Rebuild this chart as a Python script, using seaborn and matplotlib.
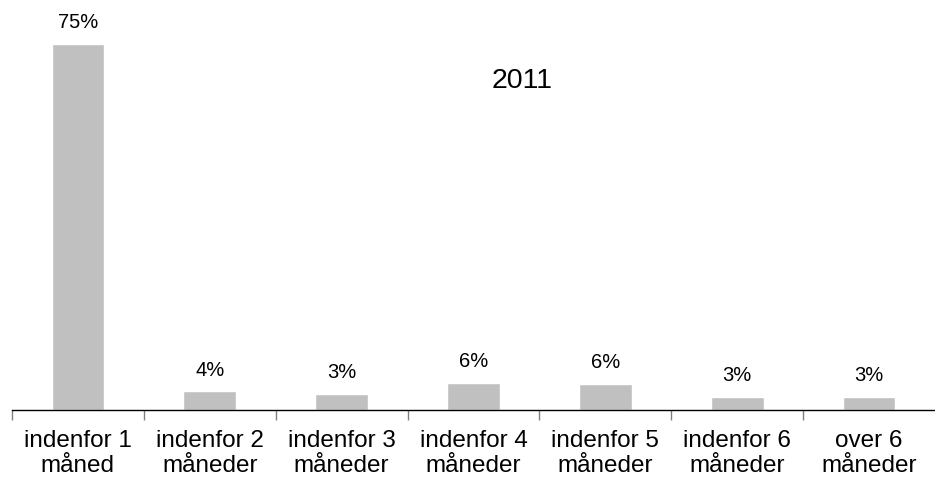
import matplotlib
matplotlib.use("Agg")
import matplotlib.pyplot as plt
import seaborn as sns
import pandas as pd

categories = ["indenfor 1\nmåned", "indenfor 2\nmåneder", "indenfor 3\nmåneder",
              "indenfor 4\nmåneder", "indenfor 5\nmåneder", "indenfor 6\nmåneder",
              "over 6\nmåneder"]
values = [75, 3.8, 3.3, 5.6, 5.4, 2.7, 2.7]
labels = ["75%", "4%", "3%", "6%", "6%", "3%", "3%"]

sns.set_style("white")
plt.rcParams['font.family'] = ['Liberation Sans', 'DejaVu Sans']
plt.rcParams['text.color'] = 'black'
plt.rcParams['xtick.color'] = 'black'

df = pd.DataFrame({"kat": categories, "pct": values})

fig = plt.figure(figsize=(9.35, 4.81), dpi=100)
ax = fig.add_axes([12 / 935, 70 / 481, 923 / 935, 411 / 481])
sns.barplot(data=df, x="kat", y="pct", color="#c0c0c0", width=0.4,
            saturation=1, ax=ax)

ax.bar_label(ax.containers[0], labels=labels, padding=9, fontsize=14.5,
             color="black")
ax.set_ylim(0, 84.2)
ax.set_xlim(-0.5, 6.5)

for s in ["top", "right", "left"]:
    ax.spines[s].set_visible(False)
ax.spines["bottom"].set_color("black")
ax.spines["bottom"].set_linewidth(1)
ax.set_yticks([])
ax.set_xlabel("")
ax.set_ylabel("")
ax.tick_params(axis="x", which="major", length=0, pad=14, labelsize=17.5,
               labelcolor="black")
ax.set_xticks([i - 0.5 for i in range(7)], minor=True)
ax.tick_params(axis="x", which="minor", bottom=True, length=7,
               color="#808080", width=1)
for t in ax.get_xticklabels():
    t.set_linespacing(1.15)

ax.text(522 / 935, 1 - 81 / 481, "2011", transform=fig.transFigure,
        ha="center", va="center", fontsize=20.5, color="black")

fig.savefig("out.png", dpi=100)
